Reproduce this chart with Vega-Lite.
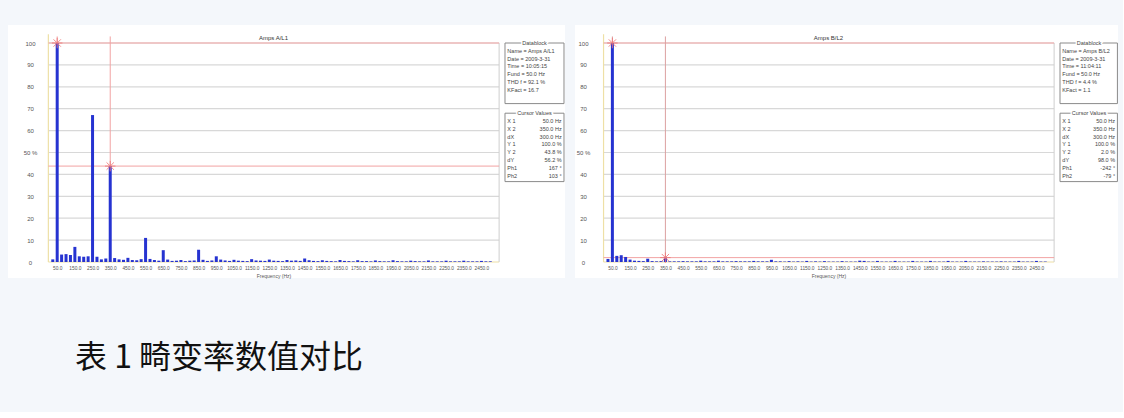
{
  "$schema": "https://vega.github.io/schema/vega-lite/v6.json",
  "background": "#f4f7fb",
  "padding": {"left": 8, "top": 25, "right": 5, "bottom": 38},
  "config": {
    "view": {"stroke": null},
    "font": "Liberation Sans",
    "axis": {
      "domain": false, "ticks": false, "grid": false,
      "labelOverlap": false, "labelFlush": false, "labelBound": false,
      "labelFont": "Liberation Sans", "labelColor": "#555555",
      "titleFont": "Liberation Sans", "titleFontWeight": "normal", "titleColor": "#555555"
    },
    "axisX": {"labelFontSize": 4.8, "labelPadding": 3, "titleFontSize": 5, "titlePadding": 4},
    "axisY": {"labelFontSize": 6, "labelAlign": "center"}
  },
  "title": {
    "text": "表 1 畸变率数值对比",
    "orient": "bottom",
    "anchor": "start",
    "offset": 64,
    "dx": 67,
    "baseline": "top",
    "font": "Noto Sans CJK SC",
    "fontSize": 32,
    "fontWeight": "normal",
    "color": "#111111"
  },
  "datasets": {
    "grid": [{"v": 10}, {"v": 20}, {"v": 30}, {"v": 40}, {"v": 50}, {"v": 60}, {"v": 70}, {"v": 80}, {"v": 90}, {"v": 100}],
    "cursor": [
      {"panel": "A", "f": 50, "v": 100},
      {"panel": "A", "f": 350, "v": 43.8},
      {"panel": "B", "f": 50, "v": 100},
      {"panel": "B", "f": 350, "v": 2.0}
    ],
    "block": [
      {"panel": "A", "box": "D", "line": 0, "kind": "head", "label": "Datablock", "value": ""},
      {"panel": "A", "box": "D", "line": 1, "label": "Name = Amps A/L1", "value": ""},
      {"panel": "A", "box": "D", "line": 2, "label": "Date  = 2009-3-31", "value": ""},
      {"panel": "A", "box": "D", "line": 3, "label": "Time  = 10:05:15", "value": ""},
      {"panel": "A", "box": "D", "line": 4, "label": "Fund  = 50.0 Hz", "value": ""},
      {"panel": "A", "box": "D", "line": 5, "label": "THD f = 92.1 %", "value": ""},
      {"panel": "A", "box": "D", "line": 6, "label": "KFact = 16.7", "value": ""},
      {"panel": "A", "box": "D", "line": 7, "label": "", "value": ""},
      {"panel": "A", "box": "C", "line": 9, "kind": "head", "label": "Cursor Values", "value": ""},
      {"panel": "A", "box": "C", "line": 10, "label": "X 1", "value": "50.0 Hz"},
      {"panel": "A", "box": "C", "line": 11, "label": "X 2", "value": "350.0 Hz"},
      {"panel": "A", "box": "C", "line": 12, "label": "dX", "value": "300.0 Hz"},
      {"panel": "A", "box": "C", "line": 13, "label": "Y 1", "value": "100.0 %"},
      {"panel": "A", "box": "C", "line": 14, "label": "Y 2", "value": "43.8 %"},
      {"panel": "A", "box": "C", "line": 15, "label": "dY", "value": "56.2 %"},
      {"panel": "A", "box": "C", "line": 16, "label": "Ph1", "value": "167 °"},
      {"panel": "A", "box": "C", "line": 17, "label": "Ph2", "value": "103 °"},
      {"panel": "B", "box": "D", "line": 0, "kind": "head", "label": "Datablock", "value": ""},
      {"panel": "B", "box": "D", "line": 1, "label": "Name = Amps B/L2", "value": ""},
      {"panel": "B", "box": "D", "line": 2, "label": "Date  = 2009-3-31", "value": ""},
      {"panel": "B", "box": "D", "line": 3, "label": "Time  = 11:04:11", "value": ""},
      {"panel": "B", "box": "D", "line": 4, "label": "Fund  = 50.0 Hz", "value": ""},
      {"panel": "B", "box": "D", "line": 5, "label": "THD f =  4.4 %", "value": ""},
      {"panel": "B", "box": "D", "line": 6, "label": "KFact =  1.1", "value": ""},
      {"panel": "B", "box": "D", "line": 7, "label": "", "value": ""},
      {"panel": "B", "box": "C", "line": 9, "kind": "head", "label": "Cursor Values", "value": ""},
      {"panel": "B", "box": "C", "line": 10, "label": "X 1", "value": "50.0 Hz"},
      {"panel": "B", "box": "C", "line": 11, "label": "X 2", "value": "350.0 Hz"},
      {"panel": "B", "box": "C", "line": 12, "label": "dX", "value": "300.0 Hz"},
      {"panel": "B", "box": "C", "line": 13, "label": "Y 1", "value": "100.0 %"},
      {"panel": "B", "box": "C", "line": 14, "label": "Y 2", "value": "2.0 %"},
      {"panel": "B", "box": "C", "line": 15, "label": "dY", "value": "98.0 %"},
      {"panel": "B", "box": "C", "line": 16, "label": "Ph1", "value": "-242 °"},
      {"panel": "B", "box": "C", "line": 17, "label": "Ph2", "value": "-79 °"}
    ],
    "spectrum": [
      {"panel": "A", "f": 25, "v": 1.2}, {"panel": "A", "f": 50, "v": 100}, {"panel": "A", "f": 75, "v": 3.4}, {"panel": "A", "f": 100, "v": 3.6},
      {"panel": "A", "f": 125, "v": 3.2}, {"panel": "A", "f": 150, "v": 6.9}, {"panel": "A", "f": 175, "v": 2.6}, {"panel": "A", "f": 200, "v": 2.4},
      {"panel": "A", "f": 225, "v": 2.6}, {"panel": "A", "f": 250, "v": 67.1}, {"panel": "A", "f": 275, "v": 2.4}, {"panel": "A", "f": 300, "v": 1.2},
      {"panel": "A", "f": 325, "v": 1.6}, {"panel": "A", "f": 350, "v": 43.8}, {"panel": "A", "f": 375, "v": 1.8}, {"panel": "A", "f": 400, "v": 1.2},
      {"panel": "A", "f": 425, "v": 1.0}, {"panel": "A", "f": 450, "v": 1.9}, {"panel": "A", "f": 475, "v": 0.9}, {"panel": "A", "f": 500, "v": 0.8},
      {"panel": "A", "f": 525, "v": 1.3}, {"panel": "A", "f": 550, "v": 11.0}, {"panel": "A", "f": 575, "v": 1.4}, {"panel": "A", "f": 600, "v": 0.9},
      {"panel": "A", "f": 625, "v": 0.6}, {"panel": "A", "f": 650, "v": 5.4}, {"panel": "A", "f": 675, "v": 1.1}, {"panel": "A", "f": 700, "v": 0.5},
      {"panel": "A", "f": 725, "v": 0.6}, {"panel": "A", "f": 750, "v": 0.9}, {"panel": "A", "f": 775, "v": 0.4}, {"panel": "A", "f": 800, "v": 0.6},
      {"panel": "A", "f": 825, "v": 0.7}, {"panel": "A", "f": 850, "v": 5.6}, {"panel": "A", "f": 875, "v": 1.0}, {"panel": "A", "f": 900, "v": 0.5},
      {"panel": "A", "f": 925, "v": 0.7}, {"panel": "A", "f": 950, "v": 2.6}, {"panel": "A", "f": 975, "v": 1.1}, {"panel": "A", "f": 1000, "v": 0.7},
      {"panel": "A", "f": 1025, "v": 0.5}, {"panel": "A", "f": 1050, "v": 1.0}, {"panel": "A", "f": 1075, "v": 0.6}, {"panel": "A", "f": 1100, "v": 0.5},
      {"panel": "A", "f": 1125, "v": 0.4}, {"panel": "A", "f": 1150, "v": 1.3}, {"panel": "A", "f": 1175, "v": 0.7}, {"panel": "A", "f": 1200, "v": 0.6},
      {"panel": "A", "f": 1225, "v": 0.5}, {"panel": "A", "f": 1250, "v": 1.1}, {"panel": "A", "f": 1275, "v": 0.6}, {"panel": "A", "f": 1300, "v": 0.5},
      {"panel": "A", "f": 1325, "v": 0.4}, {"panel": "A", "f": 1350, "v": 0.9}, {"panel": "A", "f": 1375, "v": 0.6}, {"panel": "A", "f": 1400, "v": 0.7},
      {"panel": "A", "f": 1425, "v": 0.5}, {"panel": "A", "f": 1450, "v": 1.6}, {"panel": "A", "f": 1475, "v": 0.8}, {"panel": "A", "f": 1500, "v": 0.5},
      {"panel": "A", "f": 1525, "v": 0.4}, {"panel": "A", "f": 1550, "v": 0.8}, {"panel": "A", "f": 1575, "v": 0.5}, {"panel": "A", "f": 1600, "v": 0.4},
      {"panel": "A", "f": 1625, "v": 0.3}, {"panel": "A", "f": 1650, "v": 0.9}, {"panel": "A", "f": 1675, "v": 0.5}, {"panel": "A", "f": 1700, "v": 0.4},
      {"panel": "A", "f": 1725, "v": 0.3}, {"panel": "A", "f": 1750, "v": 0.8}, {"panel": "A", "f": 1775, "v": 0.4}, {"panel": "A", "f": 1800, "v": 0.4},
      {"panel": "A", "f": 1825, "v": 0.3}, {"panel": "A", "f": 1850, "v": 0.7}, {"panel": "A", "f": 1875, "v": 0.4}, {"panel": "A", "f": 1900, "v": 0.3},
      {"panel": "A", "f": 1925, "v": 0.3}, {"panel": "A", "f": 1950, "v": 0.8}, {"panel": "A", "f": 1975, "v": 0.4}, {"panel": "A", "f": 2000, "v": 0.3},
      {"panel": "A", "f": 2025, "v": 0.3}, {"panel": "A", "f": 2050, "v": 0.6}, {"panel": "A", "f": 2075, "v": 0.4}, {"panel": "A", "f": 2100, "v": 0.3},
      {"panel": "A", "f": 2125, "v": 0.3}, {"panel": "A", "f": 2150, "v": 0.7}, {"panel": "A", "f": 2175, "v": 0.3}, {"panel": "A", "f": 2200, "v": 0.3},
      {"panel": "A", "f": 2225, "v": 0.3}, {"panel": "A", "f": 2250, "v": 0.6}, {"panel": "A", "f": 2275, "v": 0.3}, {"panel": "A", "f": 2300, "v": 0.3},
      {"panel": "A", "f": 2325, "v": 0.3}, {"panel": "A", "f": 2350, "v": 0.6}, {"panel": "A", "f": 2375, "v": 0.3}, {"panel": "A", "f": 2400, "v": 0.3},
      {"panel": "A", "f": 2425, "v": 0.3}, {"panel": "A", "f": 2450, "v": 0.5}, {"panel": "A", "f": 2475, "v": 0.3}, {"panel": "A", "f": 2500, "v": 0.3},
      {"panel": "B", "f": 25, "v": 1.4}, {"panel": "B", "f": 50, "v": 100}, {"panel": "B", "f": 75, "v": 2.8}, {"panel": "B", "f": 100, "v": 3.1},
      {"panel": "B", "f": 125, "v": 2.3}, {"panel": "B", "f": 150, "v": 1.1}, {"panel": "B", "f": 175, "v": 0.6}, {"panel": "B", "f": 200, "v": 0.5},
      {"panel": "B", "f": 225, "v": 0.4}, {"panel": "B", "f": 250, "v": 1.5}, {"panel": "B", "f": 275, "v": 0.4}, {"panel": "B", "f": 300, "v": 0.3},
      {"panel": "B", "f": 325, "v": 0.4}, {"panel": "B", "f": 350, "v": 2.0}, {"panel": "B", "f": 375, "v": 0.3}, {"panel": "B", "f": 400, "v": 0.3},
      {"panel": "B", "f": 425, "v": 0.3}, {"panel": "B", "f": 450, "v": 0.4}, {"panel": "B", "f": 475, "v": 0.3}, {"panel": "B", "f": 500, "v": 0.3},
      {"panel": "B", "f": 525, "v": 0.3}, {"panel": "B", "f": 550, "v": 0.6}, {"panel": "B", "f": 575, "v": 0.3}, {"panel": "B", "f": 600, "v": 0.3},
      {"panel": "B", "f": 625, "v": 0.3}, {"panel": "B", "f": 650, "v": 0.6}, {"panel": "B", "f": 675, "v": 0.3}, {"panel": "B", "f": 700, "v": 0.3},
      {"panel": "B", "f": 725, "v": 0.3}, {"panel": "B", "f": 750, "v": 0.4}, {"panel": "B", "f": 775, "v": 0.3}, {"panel": "B", "f": 800, "v": 0.3},
      {"panel": "B", "f": 825, "v": 0.3}, {"panel": "B", "f": 850, "v": 0.5}, {"panel": "B", "f": 875, "v": 0.3}, {"panel": "B", "f": 900, "v": 0.3},
      {"panel": "B", "f": 925, "v": 0.3}, {"panel": "B", "f": 950, "v": 1.0}, {"panel": "B", "f": 975, "v": 0.3}, {"panel": "B", "f": 1000, "v": 0.3},
      {"panel": "B", "f": 1025, "v": 0.2}, {"panel": "B", "f": 1050, "v": 0.4}, {"panel": "B", "f": 1075, "v": 0.2}, {"panel": "B", "f": 1100, "v": 0.3},
      {"panel": "B", "f": 1125, "v": 0.2}, {"panel": "B", "f": 1150, "v": 0.5}, {"panel": "B", "f": 1175, "v": 0.2}, {"panel": "B", "f": 1200, "v": 0.3},
      {"panel": "B", "f": 1225, "v": 0.2}, {"panel": "B", "f": 1250, "v": 0.4}, {"panel": "B", "f": 1275, "v": 0.2}, {"panel": "B", "f": 1300, "v": 0.2},
      {"panel": "B", "f": 1325, "v": 0.2}, {"panel": "B", "f": 1350, "v": 0.4}, {"panel": "B", "f": 1375, "v": 0.2}, {"panel": "B", "f": 1400, "v": 0.2},
      {"panel": "B", "f": 1425, "v": 0.2}, {"panel": "B", "f": 1450, "v": 0.6}, {"panel": "B", "f": 1475, "v": 0.5}, {"panel": "B", "f": 1500, "v": 0.2},
      {"panel": "B", "f": 1525, "v": 0.2}, {"panel": "B", "f": 1550, "v": 0.5}, {"panel": "B", "f": 1575, "v": 0.2}, {"panel": "B", "f": 1600, "v": 0.2},
      {"panel": "B", "f": 1625, "v": 0.2}, {"panel": "B", "f": 1650, "v": 0.5}, {"panel": "B", "f": 1675, "v": 0.2}, {"panel": "B", "f": 1700, "v": 0.2},
      {"panel": "B", "f": 1725, "v": 0.2}, {"panel": "B", "f": 1750, "v": 0.5}, {"panel": "B", "f": 1775, "v": 0.2}, {"panel": "B", "f": 1800, "v": 0.2},
      {"panel": "B", "f": 1825, "v": 0.2}, {"panel": "B", "f": 1850, "v": 0.5}, {"panel": "B", "f": 1875, "v": 0.2}, {"panel": "B", "f": 1900, "v": 0.2},
      {"panel": "B", "f": 1925, "v": 0.2}, {"panel": "B", "f": 1950, "v": 0.5}, {"panel": "B", "f": 1975, "v": 0.2}, {"panel": "B", "f": 2000, "v": 0.2},
      {"panel": "B", "f": 2025, "v": 0.2}, {"panel": "B", "f": 2050, "v": 0.5}, {"panel": "B", "f": 2075, "v": 0.2}, {"panel": "B", "f": 2100, "v": 0.2},
      {"panel": "B", "f": 2125, "v": 0.2}, {"panel": "B", "f": 2150, "v": 0.3}, {"panel": "B", "f": 2175, "v": 0.2}, {"panel": "B", "f": 2200, "v": 0.2},
      {"panel": "B", "f": 2225, "v": 0.2}, {"panel": "B", "f": 2250, "v": 0.3}, {"panel": "B", "f": 2275, "v": 0.2}, {"panel": "B", "f": 2300, "v": 0.2},
      {"panel": "B", "f": 2325, "v": 0.2}, {"panel": "B", "f": 2350, "v": 0.5}, {"panel": "B", "f": 2375, "v": 0.2}, {"panel": "B", "f": 2400, "v": 0.2},
      {"panel": "B", "f": 2425, "v": 0.2}, {"panel": "B", "f": 2450, "v": 0.5}, {"panel": "B", "f": 2475, "v": 0.2}, {"panel": "B", "f": 2500, "v": 0.2}
    ]
  },
  "spacing": 10,
  "hconcat": [
    {
      "width": 557,
      "height": 253,
      "view": {"fill": "#ffffff", "stroke": null},
      "title": {"text": "Amps A/L1", "frame": "group", "anchor": "middle", "dx": -13, "offset": -16, "fontSize": 6, "fontWeight": "normal", "color": "#333333", "font": "Liberation Sans"},
      "resolve": {"scale": {"x": "independent", "y": "independent"}},
      "layer": [
        {
          "layer": [
            {
              "data": {"name": "grid"},
              "mark": {"type": "rule", "color": "#d8d8d8", "strokeWidth": 1.2},
              "encoding": {
                "x": {"datum": 0, "type": "quantitative", "scale": {"domain": [-200, 2894.4], "nice": false, "zero": false}},
                "x2": {"datum": 2550},
                "y": {"field": "v", "type": "quantitative", "scale": {"domain": [-7.306, 108.22], "nice": false, "zero": false}}
              }
            },
            {
              "data": {"values": [{}]},
              "mark": {"type": "rule", "color": "#eee0a6", "strokeWidth": 1.2},
              "encoding": {
                "x": {"datum": 0, "type": "quantitative"},
                "y": {"datum": 0, "type": "quantitative"},
                "y2": {"datum": 104}
              }
            },
            {
              "data": {"values": [{}]},
              "mark": {"type": "rule", "color": "#eee0a6", "strokeWidth": 1.2},
              "encoding": {
                "x": {"datum": 0, "type": "quantitative"},
                "x2": {"datum": 2550},
                "y": {"datum": 0, "type": "quantitative"}
              }
            },
            {
              "data": {"values": [{}]},
              "mark": {"type": "rule", "color": "#cfcfcf", "strokeWidth": 1},
              "encoding": {
                "x": {"datum": 2550, "type": "quantitative"},
                "y": {"datum": 0, "type": "quantitative"},
                "y2": {"datum": 100}
              }
            },
            {
              "data": {"name": "cursor"},
              "transform": [{"filter": "datum.panel == 'A'"}],
              "mark": {"type": "rule", "color": "#f2a3a3", "strokeWidth": 1},
              "encoding": {
                "x": {"datum": 0, "type": "quantitative"},
                "x2": {"datum": 2550},
                "y": {"field": "v", "type": "quantitative"}
              }
            },
            {
              "data": {"name": "cursor"},
              "transform": [{"filter": "datum.panel == 'A'"}],
              "mark": {"type": "rule", "color": "#f2a3a3", "strokeWidth": 1},
              "encoding": {
                "x": {"field": "f", "type": "quantitative"},
                "y": {"datum": 0, "type": "quantitative"},
                "y2": {"datum": 103}
              }
            },
            {
              "data": {"name": "spectrum"},
              "transform": [{"filter": "datum.panel == 'A'"}],
              "mark": {"type": "bar", "color": "#2633d1", "size": 3},
              "encoding": {
                "x": {
                  "field": "f", "type": "quantitative",
                  "axis": {
                    "values": [50, 150, 250, 350, 450, 550, 650, 750, 850, 950, 1050, 1150, 1250, 1350, 1450, 1550, 1650, 1750, 1850, 1950, 2050, 2150, 2250, 2350, 2450],
                    "tickCount": 40, "format": ".1f", "offset": -16, "labelOverlap": false,
                    "title": "Frequency (Hz)", "titleX": 265.5
                  }
                },
                "y": {
                  "field": "v", "type": "quantitative",
                  "axis": {
                    "values": [0, 10, 20, 30, 40, 50, 60, 70, 80, 90, 100],
                    "tickCount": 20,
                    "labelExpr": "datum.value == 50 ? '50 %' : datum.label",
                    "offset": -36, "labelPadding": 14, "labelOverlap": false,
                    "title": null
                  }
                },
                "y2": {"datum": 0}
              }
            },
            {
              "data": {"name": "cursor"},
              "transform": [{"filter": "datum.panel == 'A'"}],
              "mark": {"type": "point", "shape": "M-1,0L1,0M0,-1L0,1M-0.7,-0.7L0.7,0.7M-0.7,0.7L0.7,-0.7", "filled": false, "stroke": "#f07878", "strokeWidth": 1, "size": 110, "opacity": 0.85},
              "encoding": {
                "x": {"field": "f", "type": "quantitative"},
                "y": {"field": "v", "type": "quantitative"}
              }
            }
          ]
        },
        {
          "data": {"name": "block"},
          "transform": [{"filter": "datum.panel == 'A'"}],
          "layer": [
            {
              "mark": {"type": "rect", "fill": "#ffffff", "stroke": "#8a8a8a", "strokeWidth": 1, "y2Offset": 6},
              "encoding": {
                "x": {"datum": 0, "type": "quantitative", "scale": {"domain": [-8.4237, 1.017], "nice": false, "zero": false}, "axis": null},
                "x2": {"datum": 1},
                "y": {"aggregate": "min", "field": "line", "type": "quantitative", "scale": {"domain": [-2.3077, 30.128], "nice": false, "zero": false, "reverse": true}, "axis": null},
                "y2": {"aggregate": "max", "field": "line"},
                "detail": {"field": "box"}
              }
            },
            {
              "transform": [{"filter": "datum.kind == 'head'"}],
              "mark": {"type": "text", "align": "center", "baseline": "middle", "fontSize": 5.5, "font": "Liberation Sans", "stroke": "#ffffff", "strokeWidth": 3, "fill": "#ffffff"},
              "encoding": {
                "x": {"datum": 0.5, "type": "quantitative", "axis": null},
                "y": {"field": "line", "type": "quantitative", "axis": null},
                "text": {"field": "label"}
              }
            },
            {
              "transform": [{"filter": "datum.kind == 'head'"}],
              "mark": {"type": "text", "align": "center", "baseline": "middle", "fontSize": 5.5, "font": "Liberation Sans", "color": "#444444"},
              "encoding": {
                "x": {"datum": 0.5, "type": "quantitative", "axis": null},
                "y": {"field": "line", "type": "quantitative", "axis": null},
                "text": {"field": "label"}
              }
            },
            {
              "transform": [{"filter": "datum.kind != 'head'"}],
              "mark": {"type": "text", "align": "left", "baseline": "middle", "fontSize": 5.5, "font": "Liberation Sans", "color": "#444444"},
              "encoding": {
                "x": {"datum": 0.04, "type": "quantitative", "axis": null},
                "y": {"field": "line", "type": "quantitative", "axis": null},
                "text": {"field": "label"}
              }
            },
            {
              "transform": [{"filter": "datum.kind != 'head'"}],
              "mark": {"type": "text", "align": "right", "baseline": "middle", "fontSize": 5.5, "font": "Liberation Sans", "color": "#444444"},
              "encoding": {
                "x": {"datum": 0.96, "type": "quantitative", "axis": null},
                "y": {"field": "line", "type": "quantitative", "axis": null},
                "text": {"field": "value"}
              }
            }
          ]
        }
      ]
    },
    {
      "width": 543,
      "height": 253,
      "view": {"fill": "#ffffff", "stroke": null},
      "title": {"text": "Amps B/L2", "frame": "group", "anchor": "middle", "dx": -18, "offset": -16, "fontSize": 6, "fontWeight": "normal", "color": "#333333", "font": "Liberation Sans"},
      "resolve": {"scale": {"x": "independent", "y": "independent"}},
      "layer": [
        {
          "layer": [
            {
              "data": {"name": "grid"},
              "mark": {"type": "rule", "color": "#d8d8d8", "strokeWidth": 1.2},
              "encoding": {
                "x": {"datum": 0, "type": "quantitative", "scale": {"domain": [-133.3, 2883.3], "nice": false, "zero": false}},
                "x2": {"datum": 2550},
                "y": {"field": "v", "type": "quantitative", "scale": {"domain": [-7.306, 108.22], "nice": false, "zero": false}}
              }
            },
            {
              "data": {"values": [{}]},
              "mark": {"type": "rule", "color": "#eee0a6", "strokeWidth": 1.2},
              "encoding": {
                "x": {"datum": 0, "type": "quantitative"},
                "y": {"datum": 0, "type": "quantitative"},
                "y2": {"datum": 104}
              }
            },
            {
              "data": {"values": [{}]},
              "mark": {"type": "rule", "color": "#eee0a6", "strokeWidth": 1.2},
              "encoding": {
                "x": {"datum": 0, "type": "quantitative"},
                "x2": {"datum": 2550},
                "y": {"datum": 0, "type": "quantitative"}
              }
            },
            {
              "data": {"values": [{}]},
              "mark": {"type": "rule", "color": "#cfcfcf", "strokeWidth": 1},
              "encoding": {
                "x": {"datum": 2550, "type": "quantitative"},
                "y": {"datum": 0, "type": "quantitative"},
                "y2": {"datum": 100}
              }
            },
            {
              "data": {"name": "cursor"},
              "transform": [{"filter": "datum.panel == 'B'"}],
              "mark": {"type": "rule", "color": "#f2a3a3", "strokeWidth": 1},
              "encoding": {
                "x": {"datum": 0, "type": "quantitative"},
                "x2": {"datum": 2550},
                "y": {"field": "v", "type": "quantitative"}
              }
            },
            {
              "data": {"name": "cursor"},
              "transform": [{"filter": "datum.panel == 'B'"}],
              "mark": {"type": "rule", "color": "#dca0a0", "strokeWidth": 1},
              "encoding": {
                "x": {"field": "f", "type": "quantitative"},
                "y": {"datum": 0, "type": "quantitative"},
                "y2": {"datum": 103}
              }
            },
            {
              "data": {"name": "spectrum"},
              "transform": [{"filter": "datum.panel == 'B'"}],
              "mark": {"type": "bar", "color": "#2633d1", "size": 3},
              "encoding": {
                "x": {
                  "field": "f", "type": "quantitative",
                  "axis": {
                    "values": [50, 150, 250, 350, 450, 550, 650, 750, 850, 950, 1050, 1150, 1250, 1350, 1450, 1550, 1650, 1750, 1850, 1950, 2050, 2150, 2250, 2350, 2450],
                    "tickCount": 40, "format": ".1f", "offset": -16, "labelOverlap": false,
                    "title": "Frequency (Hz)", "titleX": 253.5
                  }
                },
                "y": {
                  "field": "v", "type": "quantitative",
                  "axis": {
                    "values": [0, 10, 20, 30, 40, 50, 60, 70, 80, 90, 100],
                    "tickCount": 20,
                    "labelExpr": "datum.value == 50 ? '50 %' : datum.label",
                    "offset": -24, "labelPadding": 16, "labelOverlap": false,
                    "title": null
                  }
                },
                "y2": {"datum": 0}
              }
            },
            {
              "data": {"name": "cursor"},
              "transform": [{"filter": "datum.panel == 'B'"}],
              "mark": {"type": "point", "shape": "M-1,0L1,0M0,-1L0,1M-0.7,-0.7L0.7,0.7M-0.7,0.7L0.7,-0.7", "filled": false, "stroke": "#f07878", "strokeWidth": 1, "size": 110, "opacity": 0.85},
              "encoding": {
                "x": {"field": "f", "type": "quantitative"},
                "y": {"field": "v", "type": "quantitative"}
              }
            }
          ]
        },
        {
          "data": {"name": "block"},
          "transform": [{"filter": "datum.panel == 'B'"}],
          "layer": [
            {
              "mark": {"type": "rect", "fill": "#ffffff", "stroke": "#8a8a8a", "strokeWidth": 1, "y2Offset": 6},
              "encoding": {
                "x": {"datum": 0, "type": "quantitative", "scale": {"domain": [-8.3621, 1.0], "nice": false, "zero": false}, "axis": null},
                "x2": {"datum": 0.99},
                "y": {"aggregate": "min", "field": "line", "type": "quantitative", "scale": {"domain": [-2.3077, 30.128], "nice": false, "zero": false, "reverse": true}, "axis": null},
                "y2": {"aggregate": "max", "field": "line"},
                "detail": {"field": "box"}
              }
            },
            {
              "transform": [{"filter": "datum.kind == 'head'"}],
              "mark": {"type": "text", "align": "center", "baseline": "middle", "fontSize": 5.5, "font": "Liberation Sans", "stroke": "#ffffff", "strokeWidth": 3, "fill": "#ffffff"},
              "encoding": {
                "x": {"datum": 0.5, "type": "quantitative", "axis": null},
                "y": {"field": "line", "type": "quantitative", "axis": null},
                "text": {"field": "label"}
              }
            },
            {
              "transform": [{"filter": "datum.kind == 'head'"}],
              "mark": {"type": "text", "align": "center", "baseline": "middle", "fontSize": 5.5, "font": "Liberation Sans", "color": "#444444"},
              "encoding": {
                "x": {"datum": 0.5, "type": "quantitative", "axis": null},
                "y": {"field": "line", "type": "quantitative", "axis": null},
                "text": {"field": "label"}
              }
            },
            {
              "transform": [{"filter": "datum.kind != 'head'"}],
              "mark": {"type": "text", "align": "left", "baseline": "middle", "fontSize": 5.5, "font": "Liberation Sans", "color": "#444444"},
              "encoding": {
                "x": {"datum": 0.04, "type": "quantitative", "axis": null},
                "y": {"field": "line", "type": "quantitative", "axis": null},
                "text": {"field": "label"}
              }
            },
            {
              "transform": [{"filter": "datum.kind != 'head'"}],
              "mark": {"type": "text", "align": "right", "baseline": "middle", "fontSize": 5.5, "font": "Liberation Sans", "color": "#444444"},
              "encoding": {
                "x": {"datum": 0.95, "type": "quantitative", "axis": null},
                "y": {"field": "line", "type": "quantitative", "axis": null},
                "text": {"field": "value"}
              }
            }
          ]
        }
      ]
    }
  ]
}
